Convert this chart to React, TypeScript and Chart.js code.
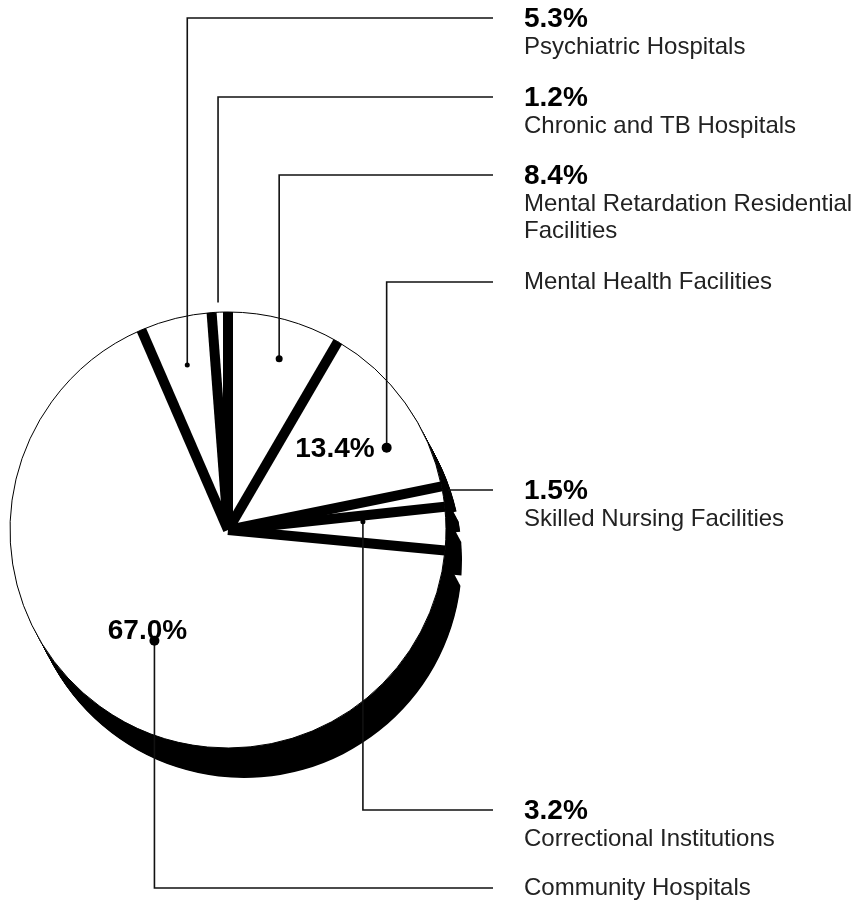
import React, { useEffect, useRef } from 'react';
import { Chart, registerables } from 'chart.js';
Chart.register(...registerables);

// ---------- data ----------
const categories = [
  'Mental Retardation Residential Facilities',
  'Mental Health Facilities',
  'Skilled Nursing Facilities',
  'Correctional Institutions',
  'Community Hospitals',
  'Psychiatric Hospitals',
  'Chronic and TB Hospitals',
];
const shares = [8.4, 13.4, 1.5, 3.2, 67.0, 5.3, 1.2];
const shareLabels = ['8.4%', '13.4%', '1.5%', '3.2%', '67.0%', '5.3%', '1.2%'];
const nameLines = [
  ['Mental Retardation Residential', 'Facilities'],
  ['Mental Health Facilities'],
  ['Skilled Nursing Facilities'],
  ['Correctional Institutions'],
  ['Community Hospitals'],
  ['Psychiatric Hospitals'],
  ['Chronic and TB Hospitals'],
];

// ---------- layout ----------
const CANVAS_W = 863;
const CANVAS_H = 905;
const PIE_CX = 228;
const PIE_CY = 530;
const PIE_R = 218;
const SHADOW_DX = 16;
const SHADOW_DY = 30;
const GAP = 10;
const LEADER_END_X = 493;
const TEXT_X = 524;
const leaderRowY = [175, 282, 490, 810, 888, 18, 97];
const anchorFrac = [0.55, 0.67, 0.17, 0.23, 0.49, 0.5, 0.42];
const anchorRad = [0.82, 0.82, 1.0, 0.62, 0.61, 0.78, 1.045];
const dotSize = [3.5, 5, 0, 2.5, 5, 2.5, 0];
const pctPlace = ['right', 'insideLeft', 'right', 'right', 'insideAbove', 'right', 'right'];
const rimStart = [false, false, true, false, false, false, false];

const BOLD_FONT = 'bold 28px "Liberation Sans", Arial, Helvetica, sans-serif';
const REG_FONT = '24px "Liberation Sans", Arial, Helvetica, sans-serif';

function wedgePath(ctx: CanvasRenderingContext2D, x: number, y: number, a0: number, a1: number, R: number, g: number) {
  const alpha = a1 - a0;
  const h = g / 2;
  const mid = (a0 + a1) / 2;
  const d = h / Math.sin(alpha / 2);
  const delta = Math.asin(h / R);
  if (a1 - delta <= a0 + delta || d >= R) return false;
  ctx.beginPath();
  ctx.moveTo(x + d * Math.cos(mid), y + d * Math.sin(mid));
  ctx.arc(x, y, R, a0 + delta, a1 - delta);
  ctx.closePath();
  return true;
}

const decorPlugin = {
  id: 'decor',
  beforeDatasetsDraw(chart: any) {
    const ctx: CanvasRenderingContext2D = chart.ctx;
    const arcs = chart.getDatasetMeta(0).data;
    ctx.save();
    ctx.fillStyle = '#000';
    const N = 40;
    for (let k = 1; k <= N; k++) {
      ctx.save();
      ctx.translate((SHADOW_DX * k) / N, (SHADOW_DY * k) / N);
      arcs.forEach((el: any) => {
        const p = el.getProps(['x', 'y', 'startAngle', 'endAngle', 'outerRadius'], true);
        if (wedgePath(ctx, p.x, p.y, p.startAngle, p.endAngle, p.outerRadius, GAP)) ctx.fill();
      });
      ctx.restore();
    }
    ctx.restore();
  },
  afterDatasetsDraw(chart: any) {
    const ctx: CanvasRenderingContext2D = chart.ctx;
    const arcs = chart.getDatasetMeta(0).data;
    ctx.save();
    // separating bands
    ctx.strokeStyle = '#000';
    ctx.lineWidth = GAP;
    ctx.lineCap = 'butt';
    arcs.forEach((el: any) => {
      const p = el.getProps(['x', 'y', 'startAngle', 'outerRadius'], true);
      ctx.beginPath();
      ctx.moveTo(p.x, p.y);
      ctx.lineTo(p.x + p.outerRadius * Math.cos(p.startAngle), p.y + p.outerRadius * Math.sin(p.startAngle));
      ctx.stroke();
    });

    // leaders and labels
    arcs.forEach((el: any, i: number) => {
      const p = el.getProps(['x', 'y', 'startAngle', 'endAngle', 'outerRadius'], true);
      const ang = p.startAngle + anchorFrac[i] * (p.endAngle - p.startAngle);
      const r = anchorRad[i] * p.outerRadius;
      const ax = p.x + r * Math.cos(ang);
      const ay = p.y + r * Math.sin(ang);
      const rowY = leaderRowY[i];
      ctx.strokeStyle = '#111';
      ctx.lineWidth = 1.6;
      ctx.beginPath();
      if (rimStart[i]) {
        const dy = rowY - p.y;
        const sx = p.x + Math.sqrt(Math.max(p.outerRadius * p.outerRadius - dy * dy, 0)) + 6;
        ctx.moveTo(sx, rowY);
        ctx.lineTo(LEADER_END_X, rowY);
      } else {
        ctx.moveTo(ax, ay);
        ctx.lineTo(ax, rowY);
        ctx.lineTo(LEADER_END_X, rowY);
      }
      ctx.stroke();
      if (dotSize[i] > 0) {
        ctx.fillStyle = '#000';
        ctx.beginPath();
        ctx.arc(ax, ay, dotSize[i], 0, Math.PI * 2);
        ctx.fill();
      }
      ctx.textAlign = 'left';
      ctx.textBaseline = 'middle';
      let ty = rowY;
      if (pctPlace[i] === 'right') {
        ctx.font = BOLD_FONT;
        ctx.fillStyle = '#000';
        ctx.fillText(shareLabels[i], TEXT_X, ty + 1);
        ty += 29;
      }
      ctx.font = REG_FONT;
      ctx.fillStyle = '#222';
      nameLines[i].forEach((line, j) => {
        ctx.fillText(line, TEXT_X, ty + j * 27);
      });
      ctx.font = BOLD_FONT;
      ctx.fillStyle = '#000';
      if (pctPlace[i] === 'insideLeft') {
        ctx.textAlign = 'right';
        ctx.textBaseline = 'middle';
        ctx.fillText(shareLabels[i], ax - 12, ay + 2);
      } else if (pctPlace[i] === 'insideAbove') {
        ctx.textAlign = 'center';
        ctx.textBaseline = 'alphabetic';
        ctx.fillText(shareLabels[i], ax - 7, ay - 2);
      }
    });
    ctx.restore();
  },
};

export default function App() {
  const ref = useRef<HTMLCanvasElement | null>(null);
  useEffect(() => {
    document.body.style.margin = '0';
    const canvas = ref.current;
    if (!canvas) return;
    const chart = new Chart(canvas, {
      type: 'pie',
      data: {
        labels: categories,
        datasets: [
          {
            data: shares,
            backgroundColor: '#ffffff',
            borderColor: '#000000',
            borderWidth: 1,
            radius: PIE_R,
          } as any,
        ],
      },
      options: {
        responsive: false,
        animation: false,
        devicePixelRatio: 1,
        rotation: 0,
        layout: {
          padding: {
            left: 0,
            right: CANVAS_W - 2 * PIE_CX,
            top: PIE_CY - 228,
            bottom: CANVAS_H - (PIE_CY + 228),
          },
        },
        plugins: {
          legend: { display: false },
          tooltip: { enabled: false },
        },
      } as any,
      plugins: [decorPlugin],
    });
    return () => chart.destroy();
  }, []);
  return (
    <div style={{ width: CANVAS_W, height: CANVAS_H, background: '#fff' }}>
      <canvas ref={ref} width={CANVAS_W} height={CANVAS_H} style={{ display: 'block' }} />
    </div>
  );
}
